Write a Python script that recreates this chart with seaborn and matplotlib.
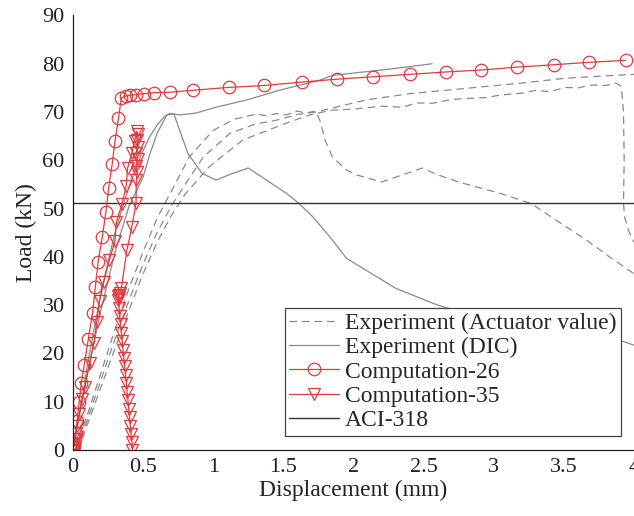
import numpy as np
import pandas as pd
import seaborn as sns
import matplotlib.pyplot as plt

# Computation-26 (circles)
comp26_x = [0, 0.003, 0.006, 0.01, 0.015, 0.02, 0.03, 0.045, 0.06, 0.08, 0.11, 0.14, 0.16, 0.18,
            0.21, 0.235, 0.255, 0.28, 0.30, 0.325, 0.345, 0.375, 0.41, 0.45, 0.505, 0.58, 0.69,
            0.855, 1.11, 1.365, 1.63, 1.88, 2.14, 2.40, 2.66, 2.91, 3.165, 3.43, 3.68, 3.94]
comp26_y = [0, 0.4, 0.9, 1.5, 2.3, 3.5, 6, 10, 13.8, 17.5, 23, 28.4, 33.8, 39,
            44.2, 49.3, 54.3, 59.2, 64, 68.7, 72.9, 73.3, 73.5, 73.6, 73.8, 74, 74.1,
            74.5, 75.1, 75.5, 76.2, 76.8, 77.3, 77.8, 78.3, 78.7, 79.3, 79.8, 80.3, 80.7]

# Computation-35 (triangles)
comp35_x = [0, 0.004, 0.008, 0.013, 0.02, 0.03, 0.045, 0.065, 0.085, 0.12, 0.15, 0.17, 0.19,
            0.22, 0.26, 0.30, 0.31, 0.35, 0.38, 0.39, 0.42, 0.44, 0.455, 0.462, 0.455, 0.465,
            0.452, 0.462, 0.448, 0.46, 0.452, 0.45, 0.42, 0.385, 0.345, 0.335, 0.328, 0.322,
            0.33, 0.324, 0.329, 0.334, 0.340, 0.346, 0.352, 0.357, 0.363, 0.369, 0.375,
            0.381, 0.386, 0.392, 0.398, 0.404, 0.409, 0.415, 0.421, 0.424]
comp35_y = [0, 0.6, 1.3, 2.2, 3.5, 5, 7.5, 10.5, 13, 18, 22.2, 26.5, 30.9,
            34.8, 39.3, 43.3, 47.2, 51, 54.7, 58.4, 61.5, 64, 66, 65.5, 64.2, 62.8,
            61.5, 60.2, 58.8, 57.5, 56, 51.1, 46.2, 41.4, 33.5, 32.6, 32.2, 31.8,
            31.4, 31, 29.5, 27.8, 26, 24.3, 22.5, 20.8, 19, 17.3, 15.5,
            13.8, 12, 10.3, 8.5, 6.8, 5, 3.3, 1.6, 0]

# Experiment (Actuator value), three specimens
act1_x = [0.02, 0.1, 0.2, 0.3, 0.4, 0.5, 0.6, 0.7, 0.83, 1.0, 1.15, 1.31, 1.38, 1.45, 1.52,
          1.6, 1.66, 1.73, 1.76, 1.8, 1.85, 1.95, 2.02, 2.2, 2.35, 2.49, 2.6, 2.75, 3.04,
          3.27, 3.45, 3.66, 3.84, 4.0]
act1_y = [0, 7, 16, 25, 33.5, 41, 48, 53.5, 60.7, 66.2, 68.5, 69.6, 69.2, 69.7, 69.4,
          70.2, 69.8, 70.2, 68.3, 64, 60.7, 58, 57, 55.5, 57, 58.4, 57, 55.5, 53.2,
          51, 47.5, 43.5, 39.7, 36.5]
act2_x = [0.03, 0.1, 0.2, 0.3, 0.4, 0.5, 0.6, 0.7, 0.8, 0.93, 1.12, 1.3, 1.45, 1.6, 1.73,
          2.09, 2.4, 2.8, 3.2, 3.51, 3.8, 4.0]
act2_y = [0, 6, 14.5, 23, 31, 38.5, 45, 50.5, 55, 60.7, 65.6, 67.5, 68.3, 69.5, 70,
          72.5, 73.8, 74.9, 76, 77, 77.5, 77.8]
act3_x = [0.04, 0.1, 0.2, 0.3, 0.4, 0.5, 0.6, 0.7, 0.8, 0.97, 1.21, 1.54, 1.7, 1.85, 2.0,
          2.2, 2.35, 2.45, 2.56, 2.7, 2.8, 2.95, 3.04, 3.2, 3.3, 3.4, 3.51, 3.6, 3.7, 3.8,
          3.87, 3.91, 3.925, 3.93, 3.925, 3.935, 3.96, 4.0]
act3_y = [0, 5, 13, 21, 29, 36.5, 43, 48.5, 53, 58.6, 64.2, 67.9, 69.5, 70.4, 70.6,
          71.2, 71.0, 71.9, 71.8, 72.6, 72.8, 73.0, 73.5, 73.9, 74.5, 74.2, 75.1, 75.0, 75.6, 75.5,
          76, 75.3, 70, 60, 51, 48, 45.5, 43]

# Experiment (DIC), two specimens
dic1_x = [0, 0.05, 0.1, 0.15, 0.2, 0.25, 0.3, 0.35, 0.4, 0.45, 0.5, 0.55, 0.6, 0.65, 0.69,
          0.76, 0.88, 1.02, 1.24, 1.47, 1.76, 1.85, 2.2, 2.4, 2.56]
dic1_y = [0, 8, 17, 25, 32.5, 39, 45, 50, 54.5, 58.5, 62, 65, 67.3, 69, 69.7,
          69.4, 69.8, 71, 72.5, 74.5, 76.6, 77.6, 78.7, 79.4, 80]
dic2_x = [0, 0.05, 0.1, 0.2, 0.3, 0.4, 0.5, 0.55, 0.6, 0.67, 0.72, 0.82, 0.92, 1.02, 1.14,
          1.25, 1.38, 1.52, 1.61, 1.71, 1.85, 1.95, 2.3, 2.6, 3.0, 3.4, 3.7, 3.89, 4.0]
dic2_y = [0, 7.5, 15.5, 29, 41, 50.5, 56.5, 61.4, 65.6, 69.4, 69.6, 61.4, 57.3, 55.9, 57.3,
          58.4, 55.9, 53.2, 51.1, 48.3, 43.5, 39.7, 33.5, 30, 26.5, 24, 23, 22.8, 21.7]

# ACI-318
aci_x = [0, 4]
aci_y = [51.1, 51.1]

x_ticks = [0, 0.5, 1, 1.5, 2, 2.5, 3, 3.5, 4]
x_tick_labels = ["0", "0.5", "1", "1.5", "2", "2.5", "3", "3.5", "4"]
y_ticks = [0, 10, 20, 30, 40, 50, 60, 70, 80, 90]

RED = "#e03a3e"
GRAY = "#8a8a8a"

sns.set_style("white")
plt.rcParams['font.family'] = ['Liberation Serif', 'DejaVu Serif']

fig = plt.figure(figsize=(6.34, 5.16), dpi=100)
ax = fig.add_axes([0.115, 0.128, 0.885, 0.842])

def draw(x, y, **kw):
    df = pd.DataFrame({"x": x, "y": y})
    sns.lineplot(data=df, x="x", y="y", sort=False, estimator=None, ax=ax, **kw)

dash = (6, 4)
draw(act1_x, act1_y, color=GRAY, lw=0.9, dashes=False, linestyle=(0, dash), label="Experiment (Actuator value)")
draw(act2_x, act2_y, color=GRAY, lw=0.9, dashes=False, linestyle=(0, dash))
draw(act3_x, act3_y, color=GRAY, lw=0.9, dashes=False, linestyle=(0, dash))
draw(dic1_x, dic1_y, color=GRAY, lw=0.9, label="Experiment (DIC)")
draw(dic2_x, dic2_y, color=GRAY, lw=0.9)
draw(aci_x, aci_y, color="#333333", lw=1.0, label="ACI-318")
draw(comp26_x, comp26_y, color=RED, lw=0.9, marker="o", markersize=9,
     markerfacecolor="none", markeredgecolor=RED, markeredgewidth=0.9, label="Computation-26")
draw(comp35_x, comp35_y, color=RED, lw=0.9, marker="v", markersize=9,
     markerfacecolor="none", markeredgecolor=RED, markeredgewidth=0.9, label="Computation-35")

ax.set_xlim(0, 4)
ax.set_ylim(0, 90)
ax.set_xticks(x_ticks)
ax.set_xticklabels(x_tick_labels)
ax.set_yticks(y_ticks)
ax.tick_params(direction="in", length=5, width=0.8, labelsize=16, colors="#222222", pad=6)
for side in ["top", "right"]:
    ax.spines[side].set_visible(False)
for side in ["left", "bottom"]:
    ax.spines[side].set_color("#222222")
    ax.spines[side].set_linewidth(0.9)
ax.set_xlabel("Displacement (mm)", fontsize=17, color="#222222", labelpad=2)
ax.set_ylabel("Load (kN)", fontsize=17, color="#222222", labelpad=4)

handles, labels = ax.get_legend_handles_labels()
order = ["Experiment (Actuator value)", "Experiment (DIC)", "Computation-26", "Computation-35", "ACI-318"]
hmap = dict(zip(labels, handles))
leg = ax.legend([hmap[k] for k in order], order, loc="lower right",
                bbox_to_anchor=(0.977, 0.032), borderaxespad=0, fontsize=17,
                frameon=True, fancybox=False, framealpha=1, edgecolor="#444444",
                handlelength=2.1, handletextpad=0.25, labelspacing=0.12, borderpad=0.2)
leg.get_frame().set_linewidth(0.9)

fig.savefig("out.png", dpi=100)
